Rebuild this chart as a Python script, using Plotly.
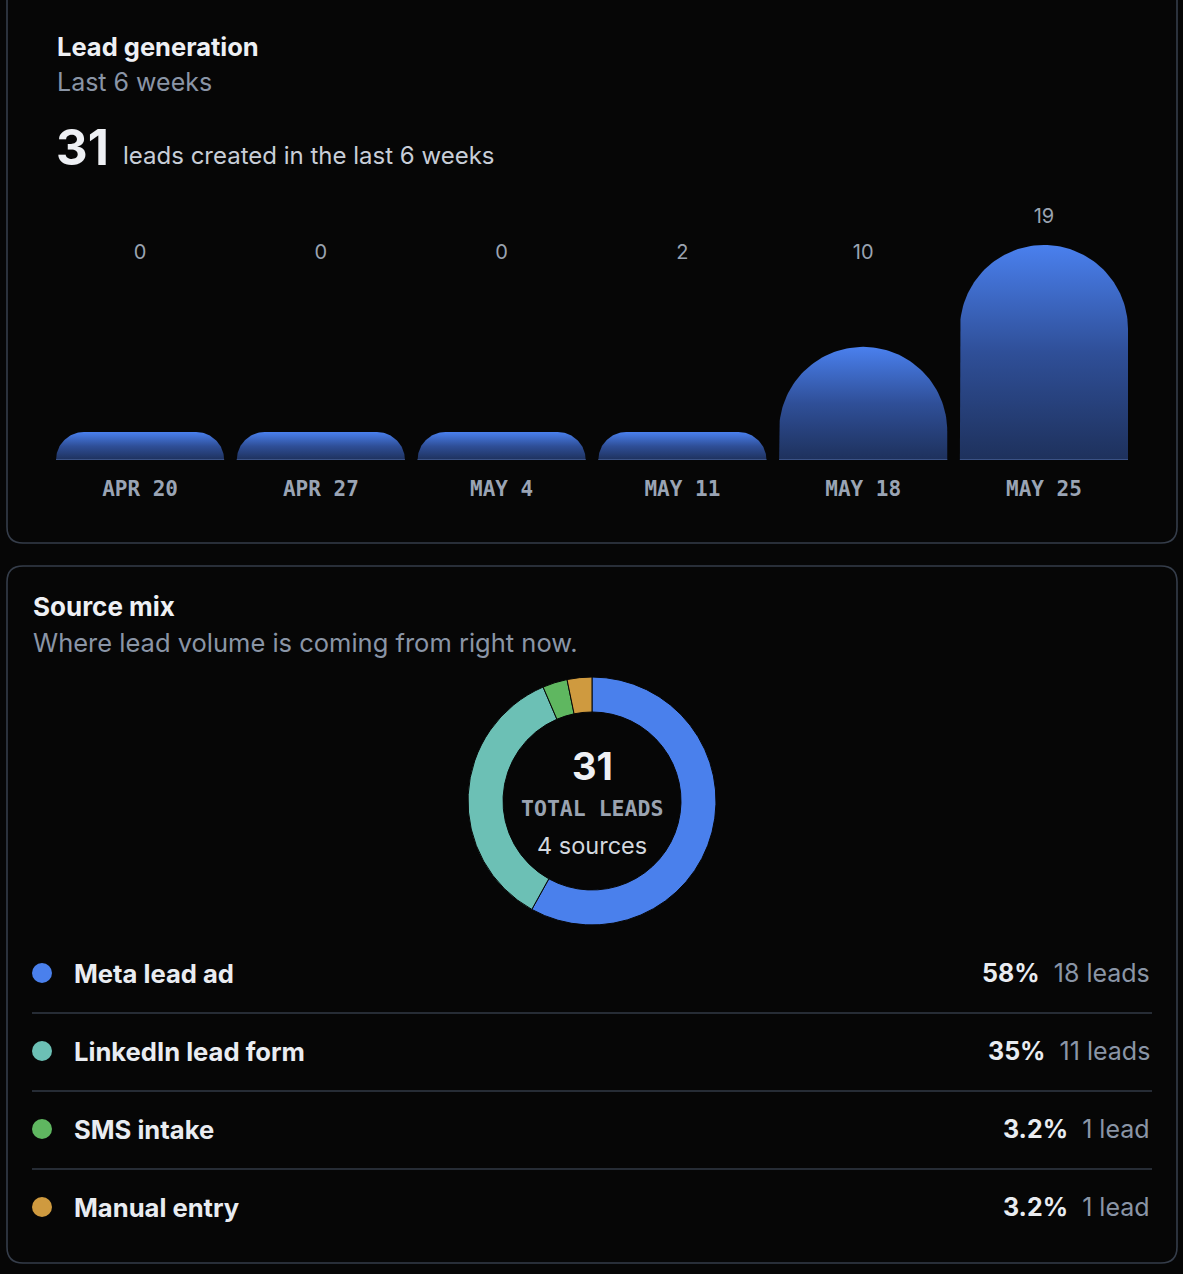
import math
import plotly.graph_objects as go

# ---------------- data ----------------
weeks = ["APR 20", "APR 27", "MAY 4", "MAY 11", "MAY 18", "MAY 25"]
weekly_leads = [0, 0, 0, 2, 10, 19]

sources = ["Meta lead ad", "LinkedIn lead form", "SMS intake", "Manual entry"]
source_leads = [18, 11, 1, 1]
source_colors = ["#4a80ec", "#6cc0b5", "#5fb760", "#cf9a3f"]

# ---------------- layout constants ----------------
W, H = 1183, 1274
BG = "#060606"
BORDER = "#353d4a"
WHITE = "#eef0f4"
GREY = "#8a95a6"
LIGHT = "#c8ced8"
SANS = "Inter, 'Noto Sans', sans-serif"
MONO = "'DejaVu Sans Mono', monospace"

total = sum(weekly_leads)
total_src = sum(source_leads)

# bar plot geometry (pixels)
bx0, bx1 = 56, 1128
base_px, top_px = 460, 200
k = 215 / 19.0            # px per lead
hw = 0.465                # half bar width (x units)
pxX = (bx1 - bx0) / (len(weeks) - 1 + 2 * hw)
min_h = 28
yr_top = (base_px - top_px) / k

fig = go.Figure()

# ---------------- bars (rounded tops, vertical gradient) ----------------
base_x, base_y = [], []
lab_x, lab_y, lab_t = [], [], []
for i, v in enumerate(weekly_leads):
    w = 2 * hw * pxX
    h = max(v * k, min_h)
    r = min(w / 2, h)
    pts = [(-w / 2, 0), (-w / 2, h - r)]
    n = 40
    cx, cy = -w / 2 + r, h - r
    for j in range(n + 1):
        a = math.pi - (math.pi / 2) * j / n
        pts.append((cx + r * math.cos(a), cy + r * math.sin(a)))
    cx = w / 2 - r
    for j in range(n + 1):
        a = math.pi / 2 - (math.pi / 2) * j / n
        pts.append((cx + r * math.cos(a), cy + r * math.sin(a)))
    pts.append((w / 2, 0))
    pts.append((-w / 2, 0))
    xs = [i + dx / pxX for dx, dy in pts]
    ys = [dy / k for dx, dy in pts]
    fig.add_trace(go.Scatter(
        x=xs, y=ys, mode="lines", fill="toself",
        line=dict(width=0, color="rgba(0,0,0,0)"),
        fillgradient=dict(type="vertical",
                          colorscale=[[0, "#1e315c"], [0.5, "#2f4f98"], [1, "#4a80ee"]]),
        hoverinfo="skip", showlegend=False))
    base_x += [i - hw, i + hw, None]
    base_y += [0, 0, None]
    lab_x.append(i)
    lab_y.append(max((base_px - 254) / k, h / k + 27 / k))
    lab_t.append(str(v))

fig.add_trace(go.Scatter(x=base_x, y=base_y, mode="lines",
                         line=dict(color="#3b5285", width=2),
                         hoverinfo="skip", showlegend=False))
fig.add_trace(go.Scatter(x=lab_x, y=lab_y, mode="text", text=lab_t,
                         textposition="middle center",
                         textfont=dict(family=SANS, size=20, color="#9aa3b1"),
                         hoverinfo="skip", showlegend=False))

# ---------------- donut ----------------
cx_d, cy_d, R = 592, 801, 124
fig.add_trace(go.Pie(
    labels=sources, values=source_leads, hole=89 / 124,
    sort=False, direction="clockwise", rotation=0,
    marker=dict(colors=source_colors, line=dict(color=BG, width=1)),
    textinfo="none", hoverinfo="label+value", showlegend=False,
    domain=dict(x=[(cx_d - R) / W, (cx_d + R) / W],
                y=[1 - (cy_d + R) / H, 1 - (cy_d - R) / H])))

# ---------------- legend dots (overlay pixel axes) ----------------
row_y = [973 + 78 * i for i in range(len(sources))]
fig.add_trace(go.Scatter(
    x=[42] * len(sources), y=row_y, mode="markers",
    marker=dict(size=20, color=source_colors, line=dict(width=0)),
    xaxis="x2", yaxis="y2", hoverinfo="skip", showlegend=False))

# ---------------- shapes ----------------
shapes = []
rc = 16
shapes.append(dict(type="path", xref="x2", yref="y2", layer="below",
                   path=f"M 7,-20 L 7,{543-rc} Q 7,543 {7+rc},543 L {1177-rc},543 "
                        f"Q 1177,543 1177,{543-rc} L 1177,-20",
                   line=dict(color=BORDER, width=1.6)))
shapes.append(dict(type="path", xref="x2", yref="y2", layer="below",
                   path=f"M 7,{566+rc} Q 7,566 {7+rc},566 L {1177-rc},566 Q 1177,566 1177,{566+rc} "
                        f"L 1177,{1263-rc} Q 1177,1263 {1177-rc},1263 L {7+rc},1263 "
                        f"Q 7,1263 7,{1263-rc} Z",
                   line=dict(color=BORDER, width=1.6)))
for y in row_y[:-1]:
    shapes.append(dict(type="line", xref="x2", yref="y2", x0=32, x1=1152,
                       y0=y + 40, y1=y + 40, line=dict(color="#323a46", width=1.5)))

# ---------------- annotations ----------------
ann = []
def txt(x, y, text, size, color, xanchor="left", family=SANS, weight="normal"):
    ann.append(dict(xref="x2", yref="y2", x=x, y=y, text=text, showarrow=False,
                    xanchor=xanchor, yanchor="middle",
                    font=dict(family=family, size=size, color=color, weight=weight)))

txt(55, 46, "Lead generation", 25.5, WHITE, weight="bold")
txt(55, 82, "Last 6 weeks", 25, GREY)
txt(54, 147, str(total), 49, WHITE, weight="bold")
txt(121, 155, "leads created in the last 6 weeks", 24, LIGHT)

txt(31, 606, "Source mix", 26, WHITE, weight="bold")
txt(31, 642, "Where lead volume is coming from right now.", 25.5, GREY)

txt(cx_d, 766, str(total_src), 38, WHITE, xanchor="center", weight="bold")
txt(cx_d, 808, "TOTAL LEADS", 21.5, "#9aa3b1", xanchor="center", family=MONO, weight="bold")
txt(cx_d, 845, f"{len(sources)} sources", 23.5, "#d3d8df", xanchor="center")

for name, n, y in zip(sources, source_leads, row_y):
    pct = 100 * n / total_src
    unit = "lead" if n == 1 else "leads"
    txt(72, y, name, 25.6, "#e9ecf1", weight="bold")
    txt(1152, y,
        f"<b>{pct:.2g}%</b>\u00a0\u00a0<span style='color:{GREY};font-weight:normal'>{n} {unit}</span>",
        25, "#e9ecf1", xanchor="right")

fig.update_layout(
    width=W, height=H, margin=dict(l=0, r=0, t=0, b=0),
    paper_bgcolor=BG, plot_bgcolor="rgba(0,0,0,0)",
    shapes=shapes, annotations=ann,
    xaxis=dict(domain=[bx0 / W, bx1 / W], range=[-hw, len(weeks) - 1 + hw],
               tickvals=list(range(len(weeks))), ticktext=weeks,
               tickfont=dict(family=MONO, size=21, color="#9aa4b4", weight="bold"),
               showgrid=False, zeroline=False, showline=False, ticks="",
               ticklabelstandoff=14, fixedrange=True, anchor="y"),
    yaxis=dict(domain=[1 - base_px / H, 1 - top_px / H], range=[0, yr_top],
               visible=False, fixedrange=True, anchor="x"),
    xaxis2=dict(domain=[0, 1], range=[0, W], visible=False, anchor="y2", fixedrange=True),
    yaxis2=dict(domain=[0, 1], range=[H, 0], visible=False, anchor="x2", fixedrange=True),
)

fig.write_html("out.html",
               config={"displayModeBar": False},
               post_script="document.body.style.margin='0';"
                           "document.body.style.background='#060606';"
                           "document.body.style.overflow='hidden';")
